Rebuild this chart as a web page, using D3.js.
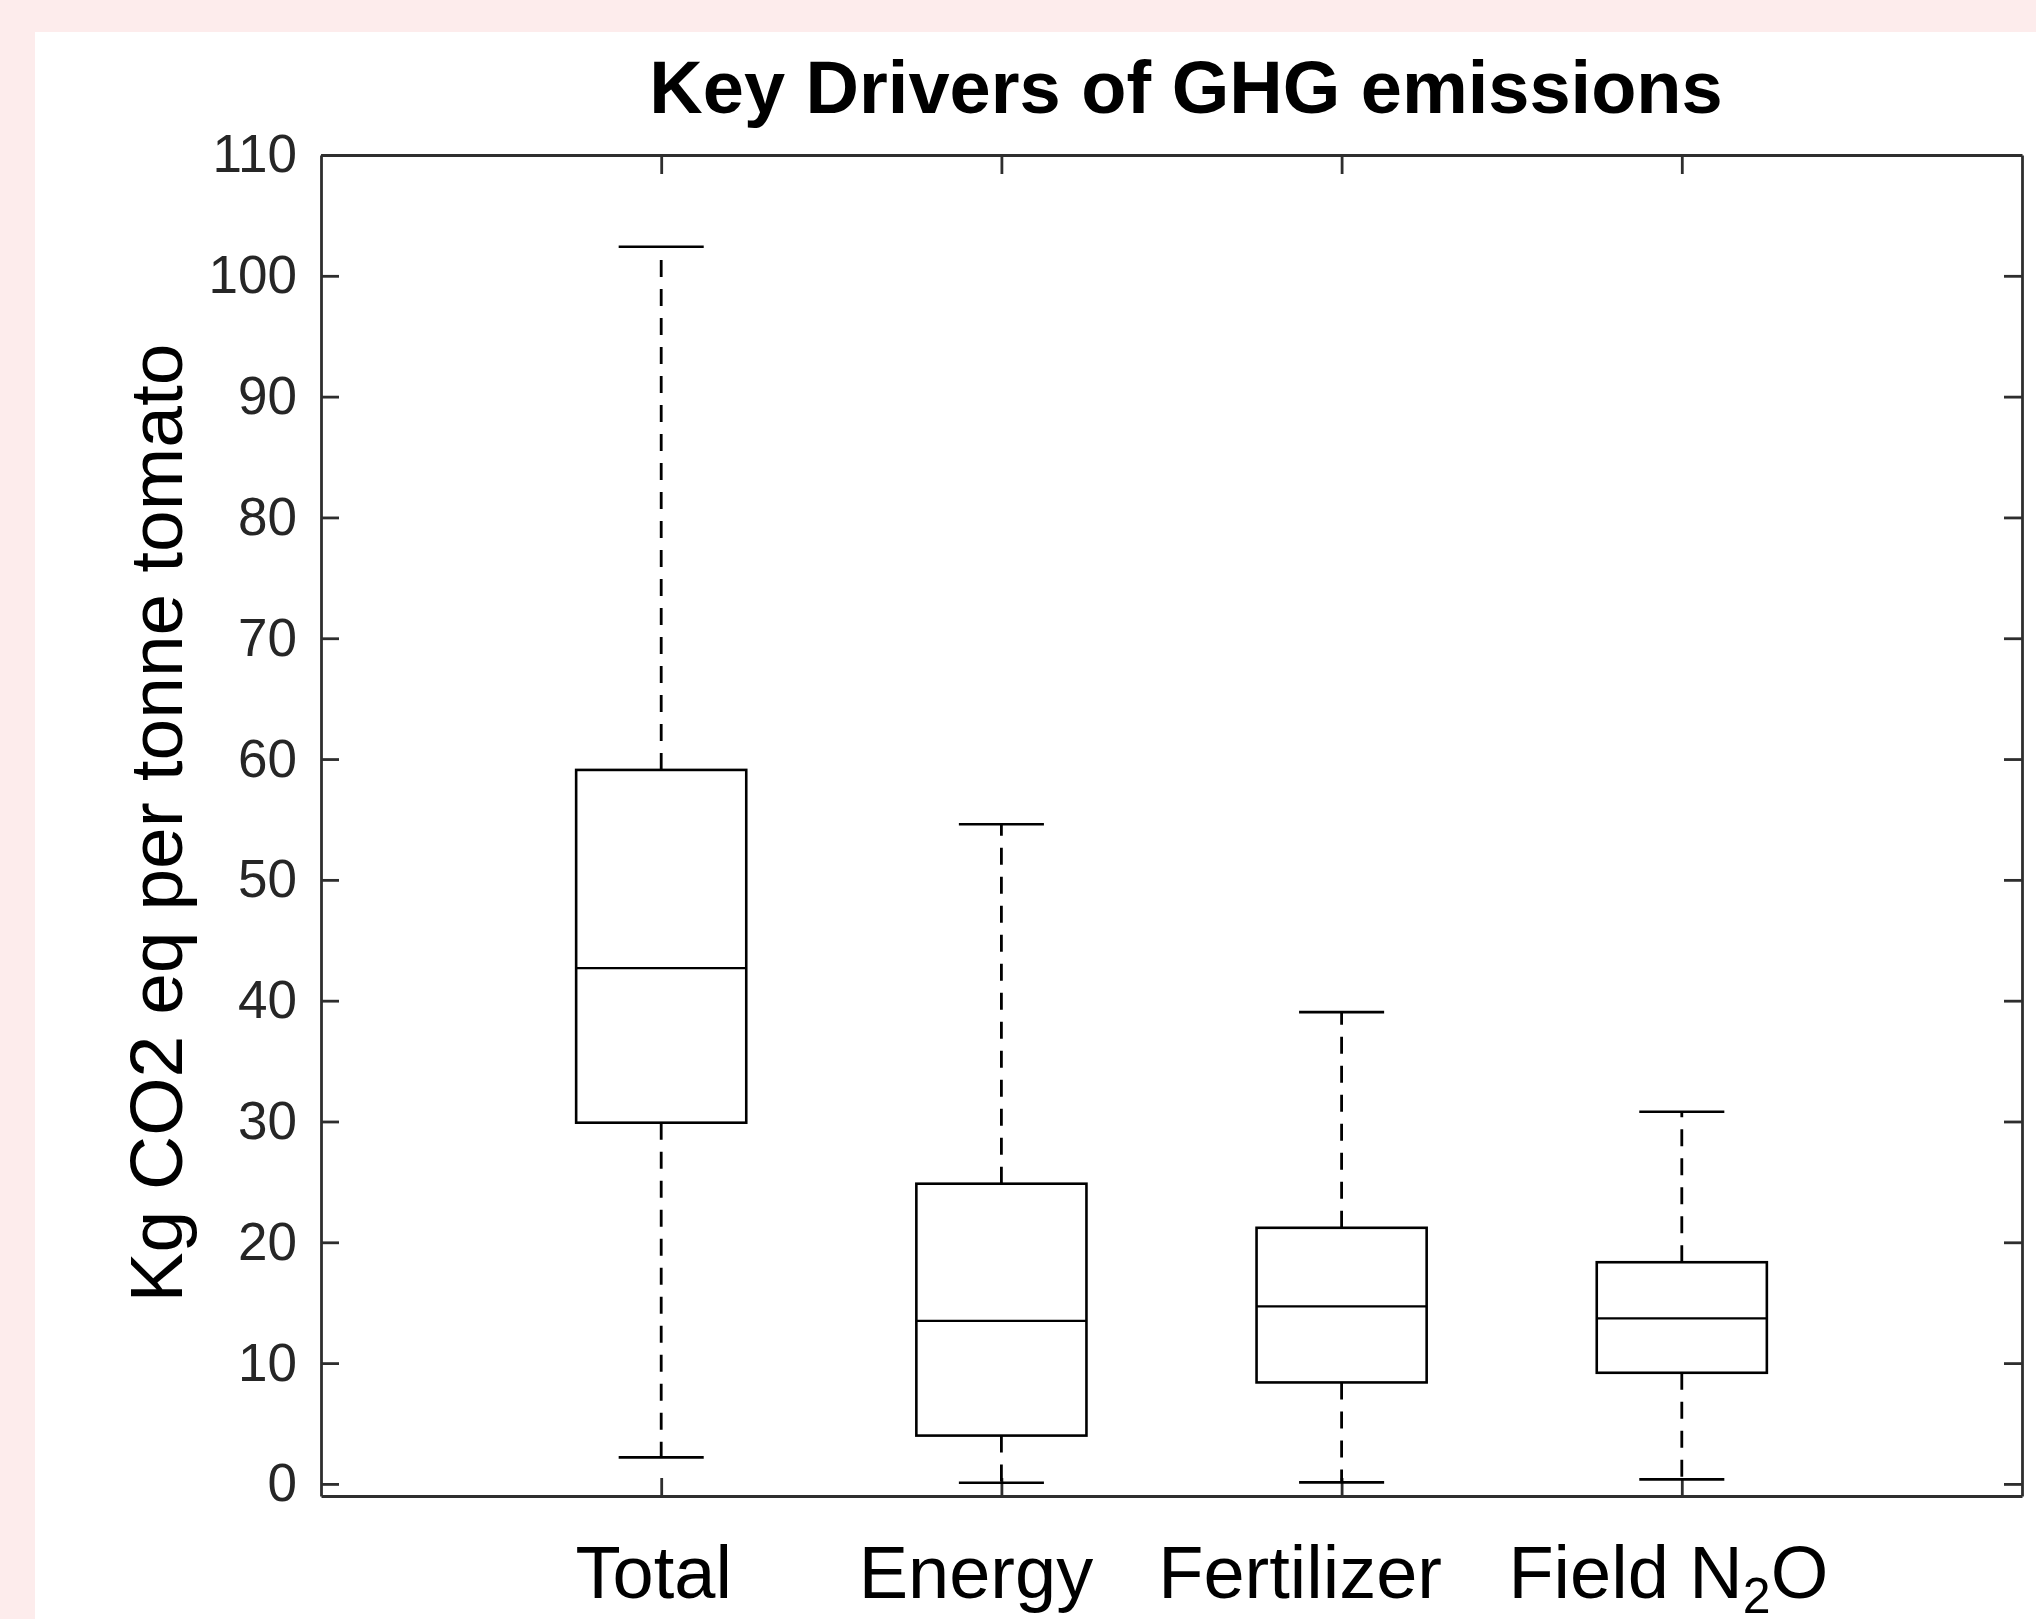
<!DOCTYPE html>
<meta charset="utf-8">
<style>
  body { margin: 0; background: #fdecec; }
  svg { display: block; }
  text { font-family: "Liberation Sans", Arial, sans-serif; }
</style>
<svg width="2036" height="1619"></svg>
<script src="https://d3js.org/d3.v7.min.js"></script>
<script>

// box statistics (kg CO2 eq per tonne)
var categories = ["Total", "Energy", "Fertilizer", "Field N2O"];
var whiskerLow  = [2.2, 0.1, 0.13, 0.38];
var q1          = [29.9, 4.0, 8.4, 9.2];
var median      = [42.7, 13.5, 14.7, 13.7];
var q3          = [59.1, 24.85, 21.2, 18.35];
var whiskerHigh = [102.4, 54.6, 39.05, 30.8];
var yTicks = [0, 10, 20, 30, 40, 50, 60, 70, 80, 90, 100, 110];

(function() {

var svg = d3.select("svg"),
    width = +svg.attr("width"),
    height = +svg.attr("height");

var plotLeft = 321, plotRight = 2022, plotTop = 155, plotBottom = 1496;

// labels in the source are nudged a bit left of their ticks
var labelShift = [-8, -26, -42, -14];

var boxes = categories.map(function(c, i) {
  return {name: c, pos: i + 1, lo: whiskerLow[i], q1: q1[i], med: median[i], q3: q3[i], hi: whiskerHigh[i]};
});

var x = d3.scaleLinear().domain([0, categories.length + 1]).range([plotLeft, plotRight]);
var y = d3.scaleLinear().domain([-1, 110]).range([plotBottom, plotTop]);

// white panel on the pink page
svg.append("rect")
    .attr("x", 35).attr("y", 32)
    .attr("width", width - 35).attr("height", height - 32)
    .attr("fill", "#fff");

var axisColor = "#2e2e2e";

function styleAxis(g) {
  g.selectAll("path.domain").attr("stroke", axisColor).attr("stroke-width", 2.8);
  g.selectAll(".tick line").attr("stroke", axisColor).attr("stroke-width", 2.8);
}

// left axis with labels
var gy = svg.append("g")
    .attr("transform", "translate(" + plotLeft + ",0)")
    .call(d3.axisLeft(y).tickValues(yTicks).tickSizeInner(-18).tickSizeOuter(0).tickPadding(24));
gy.selectAll(".tick text")
    .attr("font-size", 53)
    .attr("fill", "#262626")
    .style("font-family", '"Liberation Sans", Arial, sans-serif');
styleAxis(gy);

// right axis, ticks only
var gr = svg.append("g")
    .attr("transform", "translate(" + plotRight + ",0)")
    .call(d3.axisRight(y).tickValues(yTicks).tickSizeInner(-18).tickSizeOuter(0).tickFormat(""));
styleAxis(gr);

// top axis, ticks only
var gt = svg.append("g")
    .attr("transform", "translate(0," + plotTop + ")")
    .call(d3.axisTop(x).tickValues(boxes.map(function(d) { return d.pos; }))
        .tickSizeInner(-19).tickSizeOuter(0).tickFormat(""));
styleAxis(gt);

// bottom axis with category labels
var gx = svg.append("g")
    .attr("transform", "translate(0," + plotBottom + ")")
    .call(d3.axisBottom(x).tickValues(boxes.map(function(d) { return d.pos; }))
        .tickSizeInner(-18).tickSizeOuter(0).tickPadding(49)
        .tickFormat(function(d) { return categories[d - 1]; }));
styleAxis(gx);
gx.selectAll(".tick text")
    .attr("font-size", 74)
    .attr("fill", "#000")
    .attr("x", function(d) { return labelShift[d - 1]; })
    .style("font-family", '"Liberation Sans", Arial, sans-serif')
    .each(function(d) {
      var label = categories[d - 1];
      if (label === "Field N2O") {
        var t = d3.select(this).text("");
        t.append("tspan").text("Field N");
        t.append("tspan").attr("font-size", 50).attr("dy", 15).text("2");
        t.append("tspan").attr("dy", -15).text("O");
      }
    });

// boxes
var boxW = 0.5, capW = 0.25;
var g = svg.append("g")
    .attr("fill", "none")
    .attr("stroke", "#000");

var b = g.selectAll("g.box").data(boxes).join("g").attr("class", "box");

b.append("line")
    .attr("x1", function(d) { return x(d.pos); })
    .attr("x2", function(d) { return x(d.pos); })
    .attr("y1", function(d) { return y(d.q3); })
    .attr("y2", function(d) { return y(d.hi); })
    .attr("stroke-width", 2.8)
    .attr("stroke-dasharray", "17,12");

b.append("line")
    .attr("x1", function(d) { return x(d.pos); })
    .attr("x2", function(d) { return x(d.pos); })
    .attr("y1", function(d) { return y(d.q1); })
    .attr("y2", function(d) { return y(d.lo); })
    .attr("stroke-width", 2.8)
    .attr("stroke-dasharray", "17,12");

b.append("line")
    .attr("x1", function(d) { return x(d.pos - capW / 2); })
    .attr("x2", function(d) { return x(d.pos + capW / 2); })
    .attr("y1", function(d) { return y(d.hi); })
    .attr("y2", function(d) { return y(d.hi); })
    .attr("stroke-width", 2.6);

b.append("line")
    .attr("x1", function(d) { return x(d.pos - capW / 2); })
    .attr("x2", function(d) { return x(d.pos + capW / 2); })
    .attr("y1", function(d) { return y(d.lo); })
    .attr("y2", function(d) { return y(d.lo); })
    .attr("stroke-width", 2.6);

b.append("rect")
    .attr("x", function(d) { return x(d.pos - boxW / 2); })
    .attr("width", function(d) { return x(d.pos + boxW / 2) - x(d.pos - boxW / 2); })
    .attr("y", function(d) { return y(d.q3); })
    .attr("height", function(d) { return y(d.q1) - y(d.q3); })
    .attr("stroke-width", 2.6);

b.append("line")
    .attr("x1", function(d) { return x(d.pos - boxW / 2); })
    .attr("x2", function(d) { return x(d.pos + boxW / 2); })
    .attr("y1", function(d) { return y(d.med); })
    .attr("y2", function(d) { return y(d.med); })
    .attr("stroke-width", 2.2);

// title and y label
svg.append("text")
    .attr("x", 1186).attr("y", 113)
    .attr("text-anchor", "middle")
    .attr("font-size", 74)
    .attr("font-weight", "bold")
    .text("Key Drivers of GHG emissions");

svg.append("text")
    .attr("transform", "translate(182,823) rotate(-90)")
    .attr("text-anchor", "middle")
    .attr("font-size", 75)
    .text("Kg CO2 eq per tonne tomato");

})();

</script>
